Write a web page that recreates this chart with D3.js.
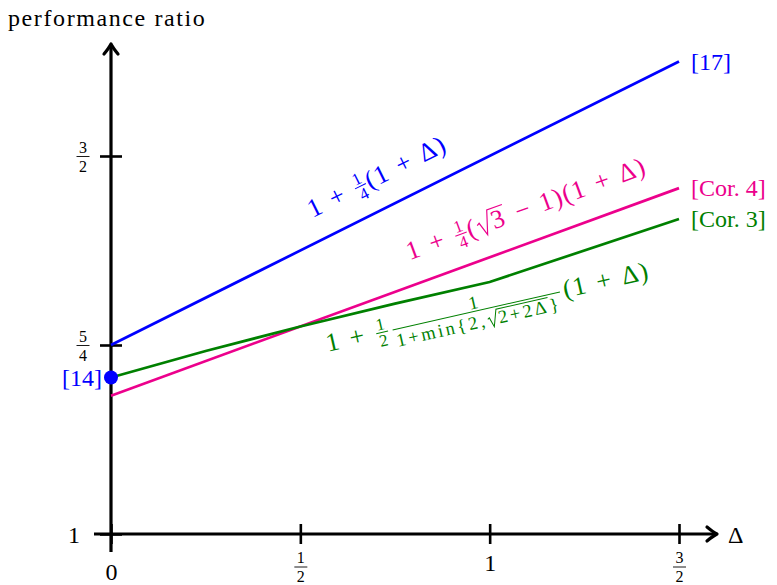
<!DOCTYPE html>
<html>
<head>
<meta charset="utf-8">
<script src="https://cdn.jsdelivr.net/npm/d3@7"></script>
<style>
  body { margin: 0; background: #fff; }
  svg { display: block; }
</style>
</head>
<body>
<svg id="chart" width="777" height="585"></svg>
<script>
// values
const blueDelta = [0, 1.5];
const blueRatio = [1.25, 1.625];
const magentaDelta = [0, 1.5];
const magentaRatio = [1.183, 1.4575];
const greenDelta = [0, 0.25, 0.5, 0.75, 1, 1.5];
const greenRatio = [1.207, 1.242, 1.2745, 1.3048, 1.3333, 1.4167];
const pointDelta = [0];
const pointRatio = [1.207];

const xTickValues = [0, 0.5, 1, 1.5];
const xTickLabels = ["0", "1/2", "1", "3/2"];
const yTickValues = [1, 1.25, 1.5];
const yTickLabels = ["1", "5/4", "3/2"];
const seriesNames = ["[17]", "[Cor. 4]", "[Cor. 3]"];
const pointName = "[14]";

const BLUE = "#0000ff", MAGENTA = "#ec008c", GREEN = "#008000";
const FONT = "'Liberation Serif', 'Times New Roman', serif";
const MAIN = 24, SMALL = 16, MATH = 26;

const svg = d3.select("#chart").attr("font-family", FONT);
svg.append("rect").attr("width", 777).attr("height", 585).attr("fill", "#fff");

const x = d3.scaleLinear().domain([0, 1.5]).range([111, 679]);
const y = d3.scaleLinear().domain([1, 1.5]).range([534, 156]);

// tiny math layout: strings, gaps, fractions, square roots
function layout(g, items, size, spacing) {
    let cx = 0;
    items.forEach(it => {
        if (typeof it === "string") {
            const t = g.append("text").attr("x", cx).attr("font-size", size)
                .attr("letter-spacing", spacing || 0).text(it);
            cx += t.node().getComputedTextLength();
        } else if ("gap" in it) {
            cx += it.gap * size;
        } else if (it.frac) {
            const gn = g.append("g"), gd = g.append("g");
            const wn = layout(gn, it.frac[0], it.size, it.ls);
            const wd = layout(gd, it.frac[1], it.size, it.ls);
            const pad = 0.1 * size;
            const w = Math.max(wn, wd) + 2 * pad;
            const axisY = -0.27 * size;
            gn.attr("transform", `translate(${cx + (w - wn) / 2},${axisY - it.up})`);
            gd.attr("transform", `translate(${cx + (w - wd) / 2},${axisY + it.down})`);
            g.append("line").attr("x1", cx + pad * 0.4).attr("x2", cx + w - pad * 0.4)
                .attr("y1", axisY).attr("y2", axisY)
                .attr("stroke", "currentColor").attr("stroke-width", 1);
            cx += w;
        } else if (it.sqrt) {
            const s = size;
            const gi = g.append("g");
            const wi = layout(gi, it.sqrt, s, spacing);
            const rw = 0.62 * s;
            gi.attr("transform", `translate(${cx + rw},0)`);
            const top = -0.8 * s;
            g.append("path").attr("fill", "none").attr("stroke", "currentColor")
                .attr("stroke-width", Math.max(1, 0.045 * s))
                .attr("d", `M${cx + 0.04 * s},${-0.36 * s} L${cx + 0.14 * s},${-0.42 * s} ` +
                    `L${cx + 0.3 * s},${0.1 * s} L${cx + rw - 0.03 * s},${top} L${cx + rw + wi + 0.04 * s},${top}`);
            cx += rw + wi + 0.05 * s;
        }
    });
    return cx;
}

function fracLabel(g, label, cx, ruleY) {
    const [n, d] = label.split("/");
    g.append("text").attr("x", cx).attr("y", ruleY - 4).attr("text-anchor", "middle")
        .attr("font-size", SMALL).attr("fill", "#000").text(n);
    g.append("text").attr("x", cx).attr("y", ruleY + 15).attr("text-anchor", "middle")
        .attr("font-size", SMALL).attr("fill", "#000").text(d);
    g.append("line").attr("x1", cx - 6.5).attr("x2", cx + 6.5).attr("y1", ruleY).attr("y2", ruleY)
        .attr("stroke", "#000").attr("stroke-width", 0.9);
}

// axes
const gy = svg.append("g").attr("transform", `translate(${x(0)},0)`)
    .call(d3.axisLeft(y).tickValues(yTickValues).tickSize(0).tickFormat(""))
    .attr("font-family", FONT);
gy.select(".domain").remove();
gy.selectAll(".tick text").remove();
gy.selectAll(".tick line").attr("x1", -11).attr("x2", 11).attr("stroke", "#000").attr("stroke-width", 2.6);
gy.selectAll(".tick").each(function(d, i) {
    const g = d3.select(this);
    const lab = yTickLabels[i];
    if (lab.includes("/")) fracLabel(g, lab, -28, 0);
    else g.append("text").attr("x", -37).attr("y", 8.5).attr("text-anchor", "middle")
        .attr("font-size", MAIN).attr("fill", "#000").text(lab);
});

const gx = svg.append("g").attr("transform", `translate(0,${y(1)})`)
    .call(d3.axisBottom(x).tickValues(xTickValues).tickSize(0).tickFormat(""))
    .attr("font-family", FONT);
gx.select(".domain").remove();
gx.selectAll(".tick text").remove();
gx.selectAll(".tick line").attr("y1", -10).attr("y2", 10).attr("stroke", "#000").attr("stroke-width", 2.6);
gx.selectAll(".tick").each(function(d, i) {
    const g = d3.select(this);
    const lab = xTickLabels[i];
    if (lab.includes("/")) fracLabel(g, lab, 0, 33);
    else g.append("text").attr("y", d === 0 ? 46 : 37).attr("text-anchor", "middle")
        .attr("font-size", MAIN).attr("fill", "#000").text(lab);
});

// axis lines with arrows
const axes = svg.append("g").attr("stroke", "#000").attr("stroke-width", 3.2).attr("fill", "none");
axes.append("line").attr("x1", x(0)).attr("x2", x(0)).attr("y1", 552).attr("y2", 47);
axes.append("line").attr("x1", 94).attr("x2", 714).attr("y1", y(1)).attr("y2", y(1));
axes.append("path").attr("stroke-linecap", "round").attr("stroke-linejoin", "round")
    .attr("d", `M${x(0) - 7},${54} Q${x(0) - 2},${48} ${x(0)},${44} Q${x(0) + 2},${48} ${x(0) + 7},${54}`);
axes.append("path").attr("stroke-linecap", "round").attr("stroke-linejoin", "round")
    .attr("d", `M${707},${y(1) - 7} Q${713},${y(1) - 2} ${717},${y(1)} Q${713},${y(1) + 2} ${707},${y(1) + 7}`);

svg.append("text").attr("x", 728).attr("y", y(1) + 9).attr("font-size", MAIN).text("Δ");
svg.append("text").attr("x", 8).attr("y", 26).attr("font-size", MAIN)
    .attr("letter-spacing", 1.6).text("performance ratio");

// series
const line = d3.line().x(d => x(d[0])).y(d => y(d[1]));
const series = [
    {delta: blueDelta, ratio: blueRatio, color: BLUE},
    {delta: magentaDelta, ratio: magentaRatio, color: MAGENTA},
    {delta: greenDelta, ratio: greenRatio, color: GREEN}
];
series.forEach((s, i) => {
    const pts = d3.zip(s.delta, s.ratio);
    svg.append("path").datum(pts).attr("fill", "none").attr("stroke", s.color)
        .attr("stroke-width", 2.7).attr("d", line);
    const last = pts[pts.length - 1];
    svg.append("text").attr("x", x(last[0]) + 12).attr("y", y(last[1]) + 8)
        .attr("font-size", MAIN).attr("fill", s.color).text(seriesNames[i]);
});

svg.selectAll("circle.pt").data(d3.zip(pointDelta, pointRatio)).join("circle")
    .attr("class", "pt").attr("cx", d => x(d[0])).attr("cy", d => y(d[1])).attr("r", 7).attr("fill", BLUE);
svg.append("text").attr("x", x(pointDelta[0]) - 9).attr("y", y(pointRatio[0]) + 8)
    .attr("text-anchor", "end").attr("font-size", MAIN).attr("fill", BLUE).text(pointName);

// formula labels along the lines
const P = [{gap: 0.38}, "+", {gap: 0.38}];
const M = [{gap: 0.38}, "−", {gap: 0.38}];
const quarter = {frac: [["1"], ["4"]], size: 17, up: 2.5, down: 14, ls: 0.5};
const half = {frac: [["1"], ["2"]], size: 17, up: 2.5, down: 14, ls: 0.5};
const formulas = [
    {color: BLUE, at: [0.532, 1.418], angle: -26.5,
        items: ["1", ...P, quarter, "(1", ...P, "Δ)"]},
    {color: MAGENTA, at: [0.789, 1.362], angle: -20.1,
        items: ["1", ...P, quarter, "(", {sqrt: ["3"]}, ...M, "1)(1", ...P, "Δ)"]},
    {color: GREEN, at: [0.573, 1.241], angle: -12.8,
        items: ["1", ...P, half, {gap: 0.1},
            {frac: [["1"], ["1+min{2,", {sqrt: ["2+2Δ"]}, "}"]], size: 18.5, up: 2.5, down: 17.5, ls: 2.7},
            {gap: 0.1}, "(1", ...P, "Δ)"]}
];
formulas.forEach(f => {
    const g = svg.append("g").attr("fill", f.color).style("color", f.color)
        .attr("transform", `translate(${x(f.at[0])},${y(f.at[1])}) rotate(${f.angle})`);
    layout(g, f.items, MATH, 1.3);
});
</script>
</body>
</html>
